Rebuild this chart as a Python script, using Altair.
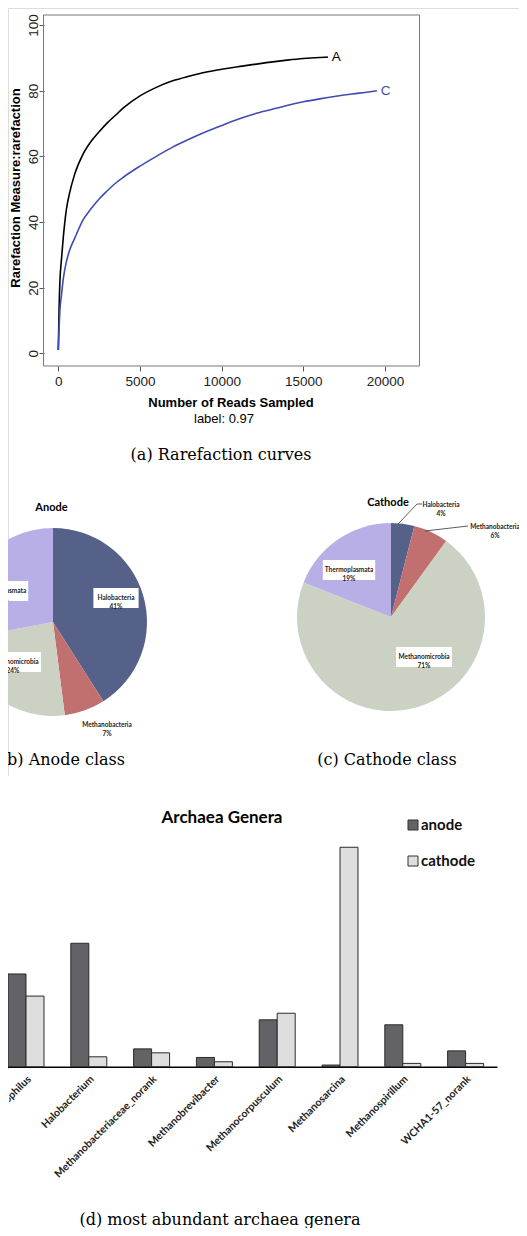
import altair as alt
import pandas as pd

# ---------------- data ----------------
# (a) rarefaction curves
RARE_X_A = [0, 50, 100, 200, 300, 500, 700, 1000, 1500, 2000, 2500, 3000, 3500, 4000, 5000,
            6000, 7000, 8000, 9000, 10000, 11000, 12000, 13000, 14000, 15000, 16000, 16500]
RARE_Y_A = [1, 14, 22, 29, 35, 44, 49, 54.5, 60.5, 64.5, 67.5, 70.2, 72.5, 74.8, 78.4,
            81.0, 83, 84.4, 85.6, 86.5, 87.3, 88, 88.7, 89.3, 89.8, 90.1, 90.2]
RARE_X_C = [0, 50, 100, 200, 300, 500, 700, 1000, 1500, 2000, 2500, 3000, 3500, 4000, 5000,
            6000, 7000, 8000, 9000, 10000, 11000, 12000, 13000, 14000, 15000, 16000, 17000,
            18000, 19000, 19500]
RARE_Y_C = [1, 8, 13.2, 18, 22.5, 28, 31.5, 35, 40.5, 44, 47, 49.5, 51.8, 53.7, 57,
            60, 62.8, 65.2, 67.4, 69.4, 71.3, 72.9, 74.2, 75.5, 76.6, 77.5, 78.3,
            79, 79.6, 80]
RARE_SAMPLES = ["A", "C"]
RARE_X_TICKS = [0, 5000, 10000, 15000, 20000]
RARE_Y_TICKS = [0, 20, 40, 60, 80, 100]

# (b), (c) class pies
PIE_CLASSES = ["Halobacteria", "Methanobacteria", "Methanomicrobia", "Thermoplasmata"]
ANODE_PCT = [41, 7, 24, 28]
CATHODE_PCT = [4, 6, 71, 19]

# (d) genera bars
GENERA = ["Methanomethylophilus", "Halobacterium", "Methanobacteriaceae_norank",
          "Methanobrevibacter", "Methanocorpusculum", "Methanosarcina",
          "Methanospirillum", "WCHA1-57_norank"]
ANODE_GEN = [28.1, 37.4, 5.4, 2.8, 14.2, 0.5, 12.7, 4.8]
CATHODE_GEN = [21.4, 3.0, 4.2, 1.5, 16.2, 66.5, 1.0, 1.0]
SERIES = ["anode", "cathode"]

# ---------------- styles / layout ----------------
W, H = 511, 1220
SANS = "Liberation Sans"
SERIF = "DejaVu Serif"
CAL = "Lato"
PIE_COLORS = ["#56618a", "#c26f6f", "#cbd1c3", "#b7afe6"]
BAR_COLORS = ["#636367", "#dedede"]
RARE_COLORS = ["#000000", "#3d4db3"]
PIE_R = 94
ANODE_C = (45, 614)
CATHODE_C = (383, 609)
ANODE_LAB = {"Halobacteria": (63, -24, True), "Methanobacteria": (54, 103, False),
             "Methanomicrobia": (-40, 40, True), "Thermoplasmata": (-51, -31, True)}
CATHODE_LAB = {"Halobacteria": (50, -112, False), "Methanobacteria": (104, -90, False),
               "Methanomicrobia": (33, 40, True), "Thermoplasmata": (-42, -47, True)}
CATHODE_LEADERS = [((7, -93), (26, -113)), ((26, -113), (31, -113)), ((34, -86), (77, -91))]
LEGEND_X, LEGEND_Y, LEGEND_STEP = 400, 812, 36

one = pd.DataFrame({"k": [0]})


def txt(text, x, y, size, font=SANS, weight="normal", align="center", angle=None,
        color="black"):
    kw = dict(text=text, font=font, fontSize=size, fontWeight=weight, align=align,
              baseline="middle", color=color)
    if angle is not None:
        kw["angle"] = angle
    return alt.Chart(one).mark_text(**kw).encode(x=alt.value(x), y=alt.value(y))


# ---------------- (a) rarefaction ----------------
rare = pd.concat([
    pd.DataFrame({"reads": RARE_X_A, "obs": RARE_Y_A, "sample": "A"}),
    pd.DataFrame({"reads": RARE_X_C, "obs": RARE_Y_C, "sample": "C"}),
], ignore_index=True)
ends = pd.DataFrame({"reads": [RARE_X_A[-1], RARE_X_C[-1]],
                     "obs": [RARE_Y_A[-1], RARE_Y_C[-1]], "sample": RARE_SAMPLES})

xs = alt.Scale(domain=[0, 20000], range=[50.3, 377], nice=False, zero=False)
ys = alt.Scale(domain=[0, 100], range=[345.3, 17], nice=False, zero=False)
rcol = alt.Color("sample:N", scale=alt.Scale(domain=RARE_SAMPLES, range=RARE_COLORS), legend=None)

rare_lines = alt.Chart(rare).mark_line(strokeWidth=1.6, interpolate="monotone").encode(
    x=alt.X("reads:Q", scale=xs,
            axis=alt.Axis(orient="bottom", offset=358 - H, values=RARE_X_TICKS, title=None,
                          domain=False, grid=False, tickSize=5, tickColor="#555",
                          labelFont=SANS, labelFontSize=13.5, labelColor="#222",
                          labelPadding=3, labelFlush=False, labelOverlap=False, format="d")),
    y=alt.Y("obs:Q", scale=ys,
            axis=alt.Axis(orient="left", offset=-36, values=RARE_Y_TICKS, title=None,
                          domain=False, grid=False, tickSize=5, tickColor="#555",
                          labelFont=SANS, labelFontSize=13.5, labelColor="#222",
                          labelAngle=270, labelAlign="center", labelBaseline="alphabetic",
                          labelPadding=2, labelFlush=False, labelOverlap=False)),
    color=rcol,
    order="reads:Q",
)
rare_ends = alt.Chart(ends).mark_text(align="left", dx=4, font=SANS, fontSize=13.5,
                                       baseline="middle").encode(
    x=alt.X("reads:Q", scale=xs), y=alt.Y("obs:Q", scale=ys), text="sample:N", color=rcol)
rare_layer = alt.layer(rare_lines, rare_ends)

frame = alt.Chart(one).mark_rect(fill=None, stroke="#777", strokeWidth=1).encode(
    x=alt.value(35.5), x2=alt.value(411.5), y=alt.value(7), y2=alt.value(358))


# ---------------- (b), (c) pies ----------------
def pie(pcts, center, labs):
    df = pd.DataFrame({"cls": PIE_CLASSES, "pct": pcts, "idx": range(len(pcts))})
    arcs = alt.Chart(df).mark_arc(outerRadius=PIE_R, innerRadius=0).encode(
        theta=alt.Theta("pct:Q", stack=True),
        order=alt.Order("idx:Q"),
        color=alt.Color("cls:N", scale=alt.Scale(domain=PIE_CLASSES, range=PIE_COLORS),
                        legend=None),
        x=alt.value(center[0]), y=alt.value(center[1]),
    )
    rows = []
    for c, p in zip(PIE_CLASSES, pcts):
        dx, dy, boxed = labs[c]
        lx, ly = center[0] + dx, center[1] + dy
        bw = 3.6 * len(c) + 2
        rows.append({"lab": f"{c}\n{p}%", "lx": lx, "ly": ly, "boxed": boxed,
                     "bx": lx - bw / 2, "bx2": lx + bw / 2, "by": ly - 10, "by2": ly + 10})
    ldf = pd.DataFrame(rows)
    boxes = alt.Chart(ldf[ldf["boxed"]]).mark_rect(fill="white").encode(
        x=alt.X("bx:Q", scale=None, axis=None), x2="bx2:Q",
        y=alt.Y("by:Q", scale=None, axis=None), y2="by2:Q")
    labels = alt.Chart(ldf).mark_text(font=CAL, fontSize=6.5, fontWeight="bold",
                                      lineBreak="\n", lineHeight=8.5, color="#222",
                                      baseline="middle").encode(
        x=alt.X("lx:Q", scale=None, axis=None), y=alt.Y("ly:Q", scale=None, axis=None),
        text="lab:N")
    return arcs, boxes, labels


an_arcs, an_boxes, an_labels = pie(ANODE_PCT, ANODE_C, ANODE_LAB)
ca_arcs, ca_boxes, ca_labels = pie(CATHODE_PCT, CATHODE_C, CATHODE_LAB)

lead = pd.DataFrame([{"x": CATHODE_C[0] + a[0], "y": CATHODE_C[1] + a[1],
                      "x2": CATHODE_C[0] + b[0], "y2": CATHODE_C[1] + b[1]}
                     for a, b in CATHODE_LEADERS])
leaders = alt.Chart(lead).mark_rule(color="#333", strokeWidth=0.8).encode(
    x=alt.X("x:Q", scale=None, axis=None), y=alt.Y("y:Q", scale=None, axis=None),
    x2="x2:Q", y2="y2:Q")

# ---------------- (d) bars ----------------
bars_df = pd.DataFrame({
    "genus": GENERA * 2,
    "series": ["anode"] * len(GENERA) + ["cathode"] * len(GENERA),
    "value": ANODE_GEN + CATHODE_GEN,
})
bcol = alt.Color("series:N", scale=alt.Scale(domain=SERIES, range=BAR_COLORS), legend=None)
bars = alt.Chart(bars_df).mark_bar(stroke="#2a2a2a", strokeWidth=1).encode(
    x=alt.X("genus:N", sort=GENERA,
            scale=alt.Scale(range=[-13.4, 489], paddingInner=0.427, paddingOuter=0.2135),
            axis=alt.Axis(orient="bottom", offset=1058.7 - H, title=None, ticks=False,
                          domain=True, domainColor="black", domainWidth=1.5, labelAngle=315,
                          labelAlign="right", labelBaseline="top", labelPadding=7,
                          labelFont=CAL, labelFontSize=10.5, labelFontWeight="bold",
                          labelColor="#222", labelOverlap=False, labelLimit=0)),
    xOffset=alt.XOffset("series:N", sort=SERIES,
                        scale=alt.Scale(paddingInner=0, paddingOuter=0)),
    y=alt.Y("value:Q", scale=alt.Scale(domain=[0, 70], range=[1058.7, 827.7], nice=False),
            axis=None),
    color=bcol,
)

# legend for the bars (swatches + names), drawn from the series list
leg_df = pd.DataFrame({"series": SERIES,
                       "ly": [LEGEND_Y + i * LEGEND_STEP for i in range(len(SERIES))]})
leg_df["ly2"] = leg_df["ly"] + 10
leg_df["lx"] = LEGEND_X
leg_df["lx2"] = LEGEND_X + 10
leg_df["tx"] = LEGEND_X + 13
leg_df["ty"] = leg_df["ly"] + 5
leg_sw = alt.Chart(leg_df).mark_rect(stroke="#333", strokeWidth=1).encode(
    x=alt.X("lx:Q", scale=None, axis=None), x2="lx2:Q",
    y=alt.Y("ly:Q", scale=None, axis=None), y2="ly2:Q", color=bcol)
leg_tx = alt.Chart(leg_df).mark_text(align="left", baseline="middle", font=CAL, fontSize=15,
                                     fontWeight="bold", color="#111").encode(
    x=alt.X("tx:Q", scale=None, axis=None), y=alt.Y("ty:Q", scale=None, axis=None),
    text="series:N")

# white mask on the very left page edge (hides a stray edge line below the pies)
mask = pd.DataFrame({"y": [768, 1061.5], "y2": [965, 1220]})
edge_mask = alt.Chart(mask).mark_rect(fill="white").encode(
    x=alt.value(-3), x2=alt.value(1.2),
    y=alt.Y("y:Q", scale=None, axis=None), y2="y2:Q")

# ---------------- texts ----------------
texts = [
    txt("Number of Reads Sampled", 223, 395, 13, weight="bold"),
    txt("label: 0.97", 216, 411, 13),
    txt("Rarefaction Measure:rarefaction", 8, 180, 13, weight="bold", angle=270),
    txt("(a)  Rarefaction curves", 213, 447, 16, font=SERIF),
    txt("Anode", 43.5, 500, 11, font=CAL, weight="bold"),
    txt("Cathode", 380, 495, 11, font=CAL, weight="bold"),
    txt("(b)  Anode class", 117, 752, 16, font=SERIF, align="right"),
    txt("(c)  Cathode class", 379, 752, 16, font=SERIF),
    txt("Archaea Genera", 214, 810, 17, font=CAL, weight="bold"),
    txt("(d)  most abundant archaea genera", 212, 1212, 16, font=SERIF),
]

chart = alt.layer(
    frame, rare_layer,
    an_arcs, ca_arcs, an_boxes, ca_boxes, an_labels, ca_labels, leaders,
    bars, leg_sw, leg_tx, *texts, edge_mask,
).resolve_scale(
    x="independent", y="independent", color="independent"
).properties(
    width=W, height=H, autosize=alt.AutoSizeParams(type="none"), padding=0
).configure_view(stroke=None).configure_axis(domain=False, grid=False).configure(font=SANS)

chart.save("out.html", embed_options={"renderer": "svg", "actions": False})
